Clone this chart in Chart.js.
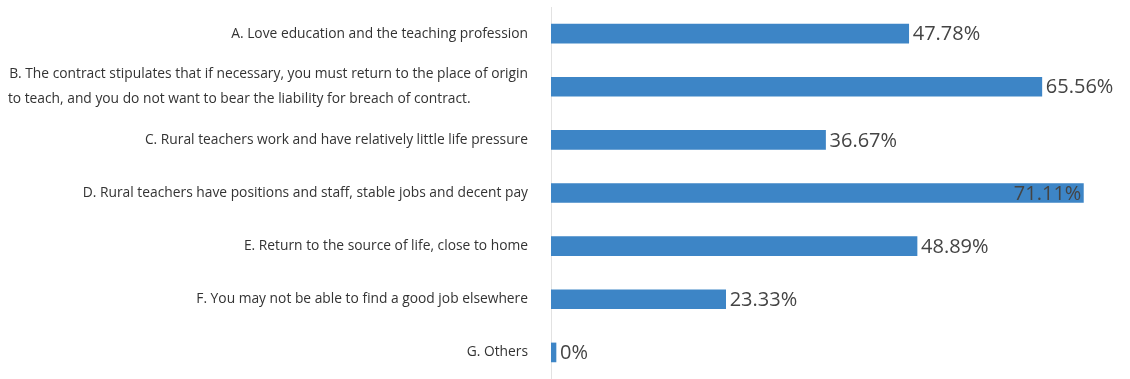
<!DOCTYPE html>
<html lang="en">
<head>
    <meta charset="UTF-8">
    <title>Reasons for choosing rural teaching</title>
    <script src="https://cdn.jsdelivr.net/npm/chart.js"></script>
    <style>
        body { margin: 0; background: #fff; }
        .chart-box { width: 1130px; height: 379px; position: relative; }
    </style>
</head>
<body>
    <div class="chart-box">
        <canvas id="reasons-chart"></canvas>
    </div>

    <script>
        const reasons = [
            "A. Love education and the teaching profession",
            ["B. The contract stipulates that if necessary, you must return to the place of origin",
             "to teach, and you do not want to bear the liability for breach of contract."],
            "C. Rural teachers work and have relatively little life pressure",
            "D. Rural teachers have positions and staff, stable jobs and decent pay",
            "E. Return to the source of life, close to home",
            "F. You may not be able to find a good job elsewhere",
            "G. Others"
        ];
        const shares = [47.78, 65.56, 36.67, 71.11, 48.89, 23.33, 0];
        const shareLabels = ["47.78%", "65.56%", "36.67%", "71.11%", "48.89%", "23.33%", "0%"];

        const tickFont = "13.8px 'Open Sans', sans-serif";

        // wrapped labels read left-aligned in the original: pad the shorter lines
        // with trailing spaces so right-aligned ticks start at the same x
        function padLines(label) {
            if (!Array.isArray(label)) return label;
            const m = document.createElement("canvas").getContext("2d");
            m.font = tickFont;
            const widest = Math.max(...label.map(l => m.measureText(l).width));
            const space = m.measureText(" ").width;
            return label.map(l => l + " ".repeat(Math.round((widest - m.measureText(l).width) / space)));
        }

        // value text after each bar, pulled inside when it would run off the edge
        const valueLabels = {
            id: "valueLabels",
            afterDatasetsDraw(chart) {
                const ctx = chart.ctx;
                const area = chart.chartArea;
                const bars = chart.getDatasetMeta(0).data;
                ctx.save();
                ctx.font = "20px 'Open Sans', sans-serif";
                ctx.fillStyle = "#444";
                ctx.textBaseline = "middle";
                bars.forEach((bar, i) => {
                    const text = shareLabels[i];
                    const w = ctx.measureText(text).width;
                    let x = bar.x + 4;
                    if (x + w > area.right) x = bar.x - w - 2;
                    ctx.fillText(text, x, bar.y + 1);
                });
                ctx.restore();
            }
        };

        const ctx = document.getElementById("reasons-chart").getContext("2d");
        new Chart(ctx, {
            type: "bar",
            data: {
                labels: reasons.map(padLines),
                datasets: [{
                    data: shares,
                    backgroundColor: "#3d85c6",
                    borderWidth: 0,
                    barThickness: 19,
                    minBarLength: 5
                }]
            },
            options: {
                indexAxis: "y",
                responsive: true,
                maintainAspectRatio: false,
                animation: false,
                layout: { padding: { top: 7, right: 10, bottom: 0, left: 0 } },
                plugins: {
                    legend: { display: false },
                    tooltip: { enabled: false }
                },
                scales: {
                    x: {
                        display: false,
                        min: 0,
                        max: 76
                    },
                    y: {
                        grid: { display: false, drawTicks: false },
                        border: { display: true, color: "#e2e2e2" },
                        afterFit(scale) {
                            scale.width = 551;
                            scale.paddingTop = 0;
                            scale.paddingBottom = 0;
                        },
                        ticks: {
                            autoSkip: false,
                            padding: 23,
                            color: "#333",
                            font: { family: "'Open Sans', sans-serif", size: 13.8, lineHeight: 1.85 }
                        }
                    }
                }
            },
            plugins: [valueLabels]
        });
    </script>
</body>
</html>
